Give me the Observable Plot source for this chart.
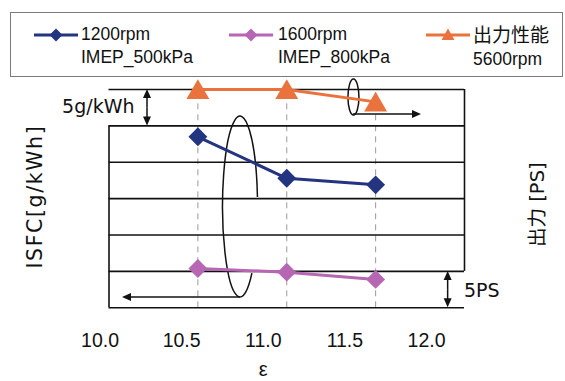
<!DOCTYPE html>
<html><head><meta charset="utf-8">
<script src="https://cdn.jsdelivr.net/npm/d3@7"></script>
<script src="https://cdn.jsdelivr.net/npm/@observablehq/plot@0.6"></script>
<style>
html,body{margin:0;padding:0;background:#fff;}
#wrap{position:relative;width:565px;height:381px;overflow:hidden;}
#wrap svg.layer{position:absolute;left:0;top:0;background:transparent;}
#legend{position:absolute;left:10px;top:12px;width:553px;height:65px;box-sizing:border-box;border:1px solid #7a7a7a;background:#fff;}
.item-icon{position:absolute;top:14px;}
.item-text{position:absolute;top:10px;font-family:"Liberation Sans",Arial,sans-serif;font-size:17.5px;line-height:22.5px;color:#111;white-space:pre;}
.item-text .cjk{font-family:"Noto Sans CJK JP",sans-serif;font-size:19px;}
</style></head>
<body><div id="wrap"></div>
<script>
// ---- data ----
const eps = [10.5, 11.0, 11.5];                 // compression ratio ε
const isfc1200 = [23.5, 17.8, 16.9];            // ISFC, g/kWh above frame bottom (1200rpm IMEP 500kPa)
const isfc1600 = [5.4, 4.9, 3.9];               // ISFC, g/kWh above frame bottom (1600rpm IMEP 800kPa)
const power5600 = [25.0, 25.0, 23.3];           // output, PS above output-frame bottom (5600rpm)
const epsTicks = [10.0, 10.5, 11.0, 11.5, 12.0];
const gridSteps = [0, 5, 10, 15, 20, 25, 30];
const legendLines = [["1200rpm", "IMEP_500kPa"], ["1600rpm", "IMEP_800kPa"], ["出力性能", "5600rpm"]];
const colors = ["#233480", "#b766b3", "#ea723c"];

// ---- annotation geometry (in data units) ----
const outputOffset = 5;   // output frame sits one grid step above the ISFC frame
const loopBig = {cx: 10.74, cy: 13.85, rx: 0.0985, ry: 12.43, gapLow: 4.7, gapHigh: 15.15};
const loopSmall = {cx: 11.378, cy: 28.89, rx: 0.031, ry: 2.47};
const oneWay = [{x1: 10.74, x2: 10.076, y: 1.41}, {x1: 11.375, x2: 11.758, y: 26.55}];
const twoWay = [{x: 10.2166, y1: 25, y2: 30}, {x: 11.908, y1: 0, y2: 5}];

const rows = (vals) => eps.map((e, i) => ({eps: e, v: vals[i]}));
const r1200 = rows(isfc1200), r1600 = rows(isfc1600), r5600 = rows(power5600);

function annotations(index, scales) {
  const {x, y} = scales;
  const g = d3.create("svg:g").attr("fill", "none").attr("stroke", "#111").attr("stroke-width", 1.5);
  const L = 9, Wd = 4;
  const arrow = (x1, y1, x2, y2) => {
    const a = Math.atan2(y2 - y1, x2 - x1);
    const bx = x2 - L * Math.cos(a), by = y2 - L * Math.sin(a);
    const px = -Math.sin(a) * Wd, py = Math.cos(a) * Wd;
    g.append("line").attr("x1", x1).attr("y1", y1).attr("x2", bx + Math.cos(a)).attr("y2", by + Math.sin(a));
    g.append("path").attr("d", `M${x2},${y2}L${bx + px},${by + py}L${bx - px},${by - py}Z`).attr("fill", "#111").attr("stroke", "none");
  };
  {
    const cx = x(loopBig.cx), cy = y(loopBig.cy);
    const rx = x(loopBig.cx + loopBig.rx) - cx, ry = cy - y(loopBig.cy + loopBig.ry);
    const pt = (v) => { const py = y(v); const t = (py - cy) / ry; return [cx + rx * Math.sqrt(Math.max(0, 1 - t * t)), py]; };
    const [ax, ay] = pt(loopBig.gapLow), [bx, by] = pt(loopBig.gapHigh);
    g.append("path").attr("d", `M${ax},${ay}A${rx},${ry} 0 1 1 ${bx},${by}`);
  }
  {
    const cx = x(loopSmall.cx), cy = y(loopSmall.cy);
    const rx = x(loopSmall.cx + loopSmall.rx) - cx, ry = cy - y(loopSmall.cy + loopSmall.ry);
    g.append("ellipse").attr("cx", cx).attr("cy", cy).attr("rx", rx).attr("ry", ry);
  }
  for (const a of oneWay) arrow(x(a.x1), y(a.y), x(a.x2), y(a.y));
  for (const a of twoWay) {
    const mid = (y(a.y1) + y(a.y2)) / 2;
    arrow(x(a.x), mid, x(a.x), y(a.y1));
    arrow(x(a.x), mid, x(a.x), y(a.y2));
  }
  return g.node();
}

const dj = "DejaVu Sans, 'Noto Sans CJK JP', sans-serif";
const chart = Plot.plot({
  width: 565, height: 381,
  marginTop: 89, marginBottom: 73.7, marginLeft: 108.5, marginRight: 101,
  x: {domain: [10, 12], axis: null},
  y: {domain: [0, 30], axis: null},
  style: {background: "transparent", overflow: "visible"},
  marks: [
    Plot.ruleX(eps, {y1: 0, y2: 30, stroke: "#9a9a9a", strokeWidth: 1, strokeDasharray: "6,5"}),
    Plot.ruleY(gridSteps, {x1: 10, x2: 12, stroke: "#111", strokeWidth: 1.6}),
    Plot.ruleX([10], {y1: 0, y2: 25, stroke: "#111", strokeWidth: 1.6}),
    Plot.ruleX([12], {y1: 5, y2: 30, stroke: "#111", strokeWidth: 1.6}),
    annotations,
    Plot.line(r1200, {x: "eps", y: "v", stroke: colors[0], strokeWidth: 3}),
    Plot.line(r1600, {x: "eps", y: "v", stroke: colors[1], strokeWidth: 3}),
    Plot.line(r5600, {x: "eps", y: d => d.v + outputOffset, stroke: colors[2], strokeWidth: 3}),
    Plot.dot(r1200, {x: "eps", y: "v", symbol: "diamond2", r: 8.5, fill: colors[0], stroke: "none"}),
    Plot.dot(r1600, {x: "eps", y: "v", symbol: "diamond2", r: 8.5, fill: colors[1], stroke: "none"}),
    Plot.dot(r5600, {x: "eps", y: d => d.v + outputOffset, symbol: "triangle", r: 8.5, dy: 3, fill: colors[2], stroke: "none"}),
    Plot.text(["5g/kWh"], {x: 10.1435, y: 27.6, textAnchor: "end", lineAnchor: "middle", fontSize: 19, fontFamily: dj, fill: "#111"}),
    Plot.text(["5PS"], {x: 11.997, y: 2.38, textAnchor: "start", lineAnchor: "middle", fontSize: 19, fontFamily: dj, fill: "#111"}),
    Plot.text(["ISFC[g/kWh]"], {frameAnchor: "left", dx: -73.5, dy: -2, rotate: -90, textAnchor: "middle", lineAnchor: "middle", fontSize: 20.5, fontFamily: dj, fill: "#111"}),
    Plot.text(["出力 [PS]"], {frameAnchor: "right", dx: 73, dy: 6, rotate: -90, textAnchor: "middle", lineAnchor: "middle", fontSize: 19.5, fontFamily: dj, fill: "#111"})
  ]
});
chart.classList.add("layer");
d3.select(chart).selectAll("text").filter(function () { return this.textContent === "ISFC[g/kWh]"; }).style("letter-spacing", "1.6px");

const axisChart = Plot.plot({
  width: 565, height: 381,
  marginTop: 0, marginBottom: 48, marginLeft: 99.5, marginRight: 139,
  x: {domain: [10, 12]},
  style: {background: "transparent", overflow: "visible"},
  marks: [
    Plot.axisX(epsTicks, {tickSize: 0, tickPadding: 0, tickFormat: d => d.toFixed(1), label: null, fontSize: 19.5, fontFamily: "Liberation Sans, Arial, sans-serif", fill: "#111"}),
    Plot.text(["ε"], {frameAnchor: "bottom", dy: 36, lineAnchor: "middle", fontSize: 20, fontFamily: "Liberation Sans, DejaVu Sans, sans-serif", fill: "#111"})
  ]
});
axisChart.classList.add("layer");

const wrap = d3.select("#wrap");
wrap.node().appendChild(chart);
wrap.node().appendChild(axisChart);

// legend
const legend = wrap.append("div").attr("id", "legend");
const iconLeft = [23, 218, 415], textLeft = [70, 267, 462];
legendLines.forEach((lines, i) => {
  const svg = legend.append("svg").attr("class", "item-icon").attr("width", 44).attr("height", 16)
    .style("left", iconLeft[i] + "px");
  svg.append("line").attr("x1", 0).attr("x2", 44).attr("y1", 8).attr("y2", 8).attr("stroke", colors[i]).attr("stroke-width", 3);
  if (i < 2) svg.append("path").attr("d", "M22,1.5L28.5,8L22,14.5L15.5,8Z").attr("fill", colors[i]);
  else svg.append("path").attr("d", "M22,1.5L28.5,13L15.5,13Z").attr("fill", colors[i]);
  const t = legend.append("div").attr("class", "item-text").style("left", textLeft[i] + "px");
  lines.forEach((s, j) => {
    const line = t.append("div");
    if (/[\u3000-\u9fff]/.test(s)) line.append("span").attr("class", "cjk").text(s);
    else line.text(s);
  });
});
</script>
</body></html>
